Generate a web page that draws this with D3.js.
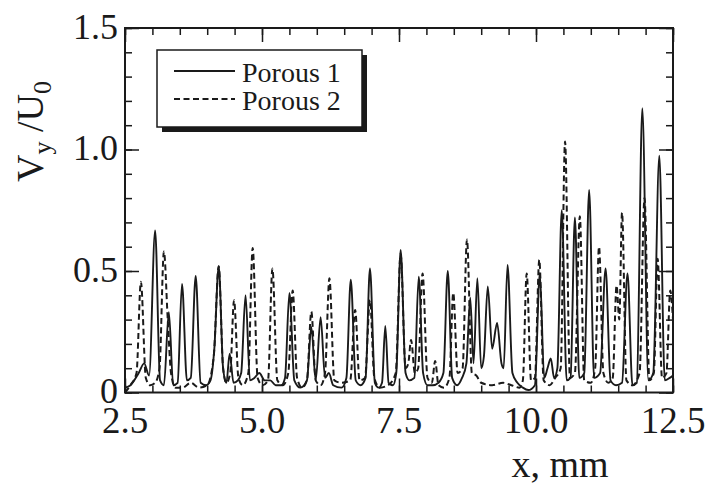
<!DOCTYPE html>
<html>
<head>
<meta charset="utf-8">
<script src="https://cdn.jsdelivr.net/npm/d3@7"></script>
<style>
  body { margin: 0; background: #fff; }
  svg text { font-family: "Liberation Serif", "Times New Roman", serif; fill: #1a1a1a; }
</style>
</head>
<body>
<div class="chart"></div>
<script>
(function () {

	// Tick labels
	var xTickValues = [2.5, 5.0, 7.5, 10.0, 12.5];
	var xTickLabels = ["2.5", "5.0", "7.5", "10.0", "12.5"];
	var yTickValues = [0, 0.5, 1.0, 1.5];
	var yTickLabels = ["0", "0.5", "1.0", "1.5"];

	var seriesNames = ["Porous 1", "Porous 2"];

	// Porous 1 (solid)
	var p1X = [2.50, 2.60, 2.75, 2.85, 2.94, 3.05, 3.14, 3.21, 3.30, 3.38, 3.46, 3.54, 3.63, 3.70, 3.79, 3.88,
		3.98, 4.06, 4.13, 4.21, 4.29, 4.35, 4.41, 4.48, 4.56, 4.62, 4.70, 4.78, 4.86, 4.95, 5.05, 5.15,
		5.25, 5.35, 5.42, 5.50, 5.59, 5.70, 5.82, 5.90, 5.98, 6.07, 6.15, 6.22, 6.30, 6.45, 6.54, 6.62,
		6.71, 6.80, 6.89, 6.97, 7.06, 7.13, 7.19, 7.25, 7.31, 7.39, 7.45, 7.53, 7.62, 7.69, 7.78, 7.86,
		7.94, 8.02, 8.12, 8.22, 8.31, 8.39, 8.47, 8.56, 8.65, 8.73, 8.80, 8.86, 8.93, 9.00, 9.05, 9.12,
		9.20, 9.29, 9.37, 9.41, 9.48, 9.57, 9.66, 9.76, 9.86, 9.98, 10.07, 10.15, 10.21, 10.27, 10.33, 10.39,
		10.47, 10.56, 10.63, 10.71, 10.79, 10.88, 10.97, 11.06, 11.17, 11.27, 11.36, 11.46, 11.57, 11.67, 11.76, 11.84,
		11.94, 12.05, 12.14, 12.25, 12.35, 12.44, 12.50];
	var p1Y = [0.02, 0.03, 0.08, 0.12, 0.07, 0.667, 0.05, 0.03, 0.33, 0.03, 0.04, 0.447, 0.05, 0.06, 0.48, 0.04,
		0.03, 0.05, 0.18, 0.52, 0.10, 0.04, 0.16, 0.04, 0.05, 0.08, 0.40, 0.05, 0.06, 0.08, 0.05, 0.05,
		0.03, 0.03, 0.06, 0.41, 0.05, 0.02, 0.05, 0.27, 0.05, 0.31, 0.06, 0.08, 0.03, 0.02, 0.06, 0.464,
		0.05, 0.03, 0.06, 0.51, 0.04, 0.02, 0.04, 0.274, 0.04, 0.03, 0.08, 0.587, 0.08, 0.05, 0.06, 0.477,
		0.08, 0.03, 0.03, 0.04, 0.08, 0.50, 0.06, 0.03, 0.06, 0.12, 0.39, 0.12, 0.47, 0.10, 0.15, 0.436,
		0.18, 0.286, 0.12, 0.10, 0.525, 0.08, 0.04, 0.02, 0.01, 0.03, 0.49, 0.06, 0.10, 0.14, 0.06, 0.10,
		0.75, 0.05, 0.06, 0.72, 0.06, 0.08, 0.834, 0.06, 0.08, 0.51, 0.05, 0.03, 0.04, 0.49, 0.03, 0.04,
		1.17, 0.05, 0.08, 0.975, 0.05, 0.06, 0.07];

	// Porous 2 (dashed)
	var p2X = [2.50, 2.60, 2.71, 2.79, 2.88, 2.96, 3.05, 3.13, 3.21, 3.28, 3.34, 3.42, 3.55, 3.70, 3.85, 4.00,
		4.12, 4.21, 4.29, 4.35, 4.42, 4.49, 4.57, 4.65, 4.75, 4.83, 4.92, 5.01, 5.11, 5.19, 5.28, 5.38,
		5.48, 5.56, 5.64, 5.73, 5.82, 5.90, 5.98, 6.07, 6.15, 6.23, 6.32, 6.45, 6.61, 6.70, 6.78, 6.88,
		6.97, 7.05, 7.15, 7.30, 7.44, 7.53, 7.62, 7.67, 7.72, 7.79, 7.85, 7.93, 8.02, 8.10, 8.16, 8.22,
		8.32, 8.42, 8.49, 8.57, 8.66, 8.74, 8.83, 8.91, 9.00, 9.20, 9.40, 9.55, 9.70, 9.76, 9.83, 9.91,
		9.98, 10.06, 10.14, 10.25, 10.35, 10.45, 10.53, 10.62, 10.71, 10.80, 10.88, 11.00, 11.08, 11.15, 11.23, 11.32,
		11.40, 11.47, 11.52, 11.57, 11.65, 11.76, 11.89, 11.98, 12.07, 12.15, 12.22, 12.30, 12.38, 12.45, 12.50];
	var p2Y = [0.00, 0.03, 0.08, 0.456, 0.06, 0.03, 0.04, 0.10, 0.58, 0.30, 0.08, 0.02, 0.02, 0.04, 0.02, 0.03,
		0.15, 0.52, 0.10, 0.04, 0.08, 0.38, 0.06, 0.03, 0.08, 0.595, 0.06, 0.03, 0.05, 0.51, 0.05, 0.03,
		0.08, 0.42, 0.06, 0.02, 0.05, 0.333, 0.05, 0.03, 0.08, 0.47, 0.05, 0.04, 0.05, 0.34, 0.05, 0.06,
		0.38, 0.06, 0.02, 0.03, 0.08, 0.57, 0.10, 0.12, 0.216, 0.08, 0.10, 0.49, 0.06, 0.04, 0.13, 0.03,
		0.02, 0.06, 0.41, 0.08, 0.10, 0.63, 0.08, 0.07, 0.04, 0.03, 0.04, 0.03, 0.02, 0.05, 0.49, 0.05,
		0.06, 0.546, 0.05, 0.03, 0.06, 0.10, 1.033, 0.06, 0.08, 0.725, 0.05, 0.04, 0.10, 0.60, 0.08, 0.04,
		0.06, 0.44, 0.30, 0.74, 0.05, 0.03, 0.08, 0.80, 0.05, 0.08, 0.55, 0.06, 0.08, 0.42, 0.30];

	var width = 708, height = 485;
	var plot = { left: 125, right: 673, top: 28, bottom: 392.5 };
	var ink = "#1a1a1a";

	var xScale = d3.scaleLinear().domain([2.5, 12.5]).range([plot.left, plot.right]);
	var yScale = d3.scaleLinear().domain([0, 1.5]).range([plot.bottom, plot.top]);

	var svg = d3.select(".chart")
		.append("svg")
		.attr("width", width)
		.attr("height", height);

	svg.append("defs").append("clipPath")
		.attr("id", "plotClip")
		.append("rect")
		.attr("x", plot.left)
		.attr("y", plot.top)
		.attr("width", plot.right - plot.left)
		.attr("height", plot.bottom - plot.top);

	// Lines
	var line = d3.line()
		.x(function (d) { return xScale(d[0]); })
		.y(function (d) { return yScale(d[1]); })
		.curve(d3.curveMonotoneX);

	var linesG = svg.append("g").attr("clip-path", "url(#plotClip)");

	linesG.append("path")
		.datum(d3.zip(p2X, p2Y))
		.attr("fill", "none")
		.attr("stroke", ink)
		.attr("stroke-width", 2)
		.attr("stroke-dasharray", "6,3.5")
		.attr("d", line);

	linesG.append("path")
		.datum(d3.zip(p1X, p1Y))
		.attr("fill", "none")
		.attr("stroke", ink)
		.attr("stroke-width", 1.9)
		.attr("d", line);

	// Ticks on all four sides, pointing inward
	var xMajor = d3.range(2.5, 12.51, 2.5);
	var xMinor = d3.range(2.5, 12.51, 0.5);
	var yMajor = d3.range(0, 1.51, 0.5);
	var yMinor = d3.range(0, 1.51, 0.1);

	function addAxis(axisFn, scale, values, size, tx, ty) {
		var g = svg.append("g")
			.attr("transform", "translate(" + tx + "," + ty + ")")
			.call(axisFn(scale).tickValues(values).tickSize(-size).tickFormat(""));
		g.select(".domain").remove();
		g.selectAll("line").attr("stroke", ink).attr("stroke-width", 1.5);
	}

	addAxis(d3.axisBottom, xScale, xMinor, 7, 0, plot.bottom);
	addAxis(d3.axisBottom, xScale, xMajor, 14, 0, plot.bottom);
	addAxis(d3.axisTop, xScale, xMinor, 7, 0, plot.top);
	addAxis(d3.axisTop, xScale, xMajor, 14, 0, plot.top);
	addAxis(d3.axisLeft, yScale, yMinor, 7, plot.left, 0);
	addAxis(d3.axisLeft, yScale, yMajor, 14, plot.left, 0);
	addAxis(d3.axisRight, yScale, yMinor, 7, plot.right, 0);
	addAxis(d3.axisRight, yScale, yMajor, 14, plot.right, 0);

	// Frame
	svg.append("rect")
		.attr("x", plot.left)
		.attr("y", plot.top)
		.attr("width", plot.right - plot.left)
		.attr("height", plot.bottom - plot.top)
		.attr("fill", "none")
		.attr("stroke", ink)
		.attr("stroke-width", 2);

	// Tick labels
	svg.append("g").selectAll("text")
		.data(xTickValues)
		.enter()
		.append("text")
		.attr("x", function (d) { return xScale(d); })
		.attr("y", 433)
		.attr("text-anchor", "middle")
		.style("font-size", "37px")
		.text(function (d, i) { return xTickLabels[i]; });

	svg.append("g").selectAll("text")
		.data(yTickValues)
		.enter()
		.append("text")
		.attr("x", 118)
		.attr("y", function (d) { return yScale(d); })
		.attr("dy", "0.3em")
		.attr("text-anchor", "end")
		.style("font-size", "36px")
		.text(function (d, i) { return yTickLabels[i]; });

	// Axis titles
	svg.append("text")
		.attr("x", 560)
		.attr("y", 477)
		.attr("text-anchor", "middle")
		.style("font-size", "38px")
		.text("x, mm");

	var yTitle = svg.append("text")
		.attr("transform", "translate(43,182) rotate(-90)")
		.style("font-size", "38px");
	yTitle.append("tspan").text("V");
	yTitle.append("tspan").attr("dy", 8).style("font-size", "26px").text("y");
	yTitle.append("tspan").attr("dy", -8).text(" /U");
	yTitle.append("tspan").attr("dy", 8).style("font-size", "26px").text("0");

	// Legend with drop shadow
	var legend = { x: 157, y: 50, w: 205, h: 77 };
	svg.append("rect")
		.attr("x", legend.x + 5)
		.attr("y", legend.y + 5)
		.attr("width", legend.w)
		.attr("height", legend.h)
		.attr("fill", ink);
	svg.append("rect")
		.attr("x", legend.x)
		.attr("y", legend.y)
		.attr("width", legend.w)
		.attr("height", legend.h)
		.attr("fill", "#fff")
		.attr("stroke", ink)
		.attr("stroke-width", 1.5);

	var legendRows = svg.append("g").selectAll("g")
		.data(seriesNames)
		.enter()
		.append("g")
		.attr("transform", function (d, i) { return "translate(0," + (71 + i * 28) + ")"; });

	legendRows.append("line")
		.attr("x1", 174)
		.attr("x2", 235)
		.attr("stroke", ink)
		.attr("stroke-width", 1.8)
		.attr("stroke-dasharray", function (d, i) { return i == 1 ? "6,3.5" : null; });

	legendRows.append("text")
		.attr("x", 242)
		.attr("y", 11)
		.style("font-size", "28px")
		.text(function (d) { return d; });
})();
</script>
</body>
</html>
